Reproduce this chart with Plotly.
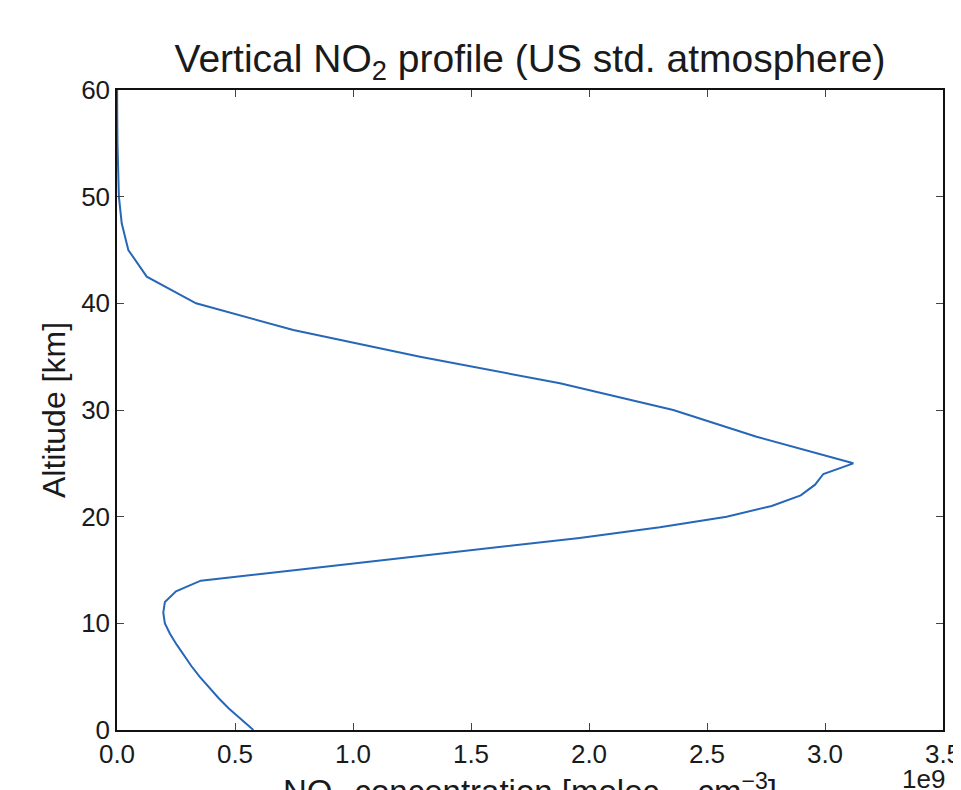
import plotly.graph_objects as go

# Altitude [km]
altitude = [0, 1, 2, 3, 4, 5, 6, 7, 8, 9, 10, 11, 12, 13, 14, 15, 16, 17, 18, 19,
            20, 21, 22, 23, 24, 25, 27.5, 30, 32.5, 35, 37.5, 40, 42.5, 45, 47.5,
            50, 52.5, 55, 57.5, 60]
# NO2 concentration [molec. cm^-3]
no2_conc = [0.578e9, 0.525e9, 0.475e9, 0.430e9, 0.390e9, 0.350e9, 0.315e9, 0.283e9,
            0.253e9, 0.225e9, 0.203e9, 0.196e9, 0.203e9, 0.250e9, 0.355e9, 0.760e9,
            1.160e9, 1.560e9, 1.960e9, 2.300e9, 2.583e9, 2.774e9, 2.897e9, 2.958e9,
            2.993e9, 3.120e9, 2.710e9, 2.357e9, 1.877e9, 1.284e9, 0.747e9, 0.335e9,
            0.126e9, 0.048e9, 0.020e9, 0.008e9, 0.004e9, 0.002e9, 0.001e9, 0.0005e9]

x_tickvals = [0, 0.5e9, 1.0e9, 1.5e9, 2.0e9, 2.5e9, 3.0e9, 3.5e9]
x_ticktext = ["0.0", "0.5", "1.0", "1.5", "2.0", "2.5", "3.0", "3.5"]
y_tickvals = [0, 10, 20, 30, 40, 50, 60]

FONT = "Liberation Sans, Arial, Helvetica, sans-serif"
TXT = "#1a1a1a"

W, H = 1000, 830
L, R, T, B = 109, 65, 82, 108
PH = H - T - B  # plot height in px

fig = go.Figure()
fig.add_trace(go.Scatter(
    x=no2_conc, y=altitude, mode="lines",
    line=dict(color="#2767b8", width=2),
    showlegend=False, hoverinfo="x+y",
))

axis_common = dict(
    showgrid=False, zeroline=False,
    showline=True, linecolor="#111111", linewidth=1.5,
    mirror="allticks", ticks="inside", ticklen=7, tickwidth=1,
    tickcolor="#444444",
    tickfont=dict(family=FONT, size=26, color=TXT),
)

fig.update_xaxes(range=[0, 3.5e9], tickvals=x_tickvals, ticktext=x_ticktext,
                 ticklabelstandoff=0, **axis_common)
fig.update_yaxes(range=[0, 60], tickvals=y_tickvals,
                 ticklabelstandoff=0,
                 title=dict(text="Altitude [km]", font=dict(family=FONT, size=32, color=TXT),
                            standoff=6),
                 **axis_common)

fig.update_layout(
    width=W, height=H,
    margin=dict(l=L, r=R, t=T, b=B, autoexpand=False),
    paper_bgcolor="white", plot_bgcolor="white",
    title=dict(text="Vertical NO<sub>2</sub> profile (US std. atmosphere)",
               x=(L + (W - R)) / 2 / W, xanchor="center", y=1 - 50 / H, yanchor="middle",
               font=dict(family=FONT, size=39, color=TXT)),
    annotations=[
        dict(text="NO<sub>2</sub> concentration [molec. · cm<sup>−3</sup>]",
             xref="paper", yref="paper", x=0.5, y=-36 / PH, xanchor="center", yanchor="top",
             showarrow=False, font=dict(family=FONT, size=33, color=TXT)),
        dict(text="1e9", xref="paper", yref="paper", x=1.0, y=-32 / PH, xshift=4,
             xanchor="right", yanchor="top", showarrow=False,
             font=dict(family=FONT, size=26, color=TXT)),
    ],
)

fig.write_html("out.html")
